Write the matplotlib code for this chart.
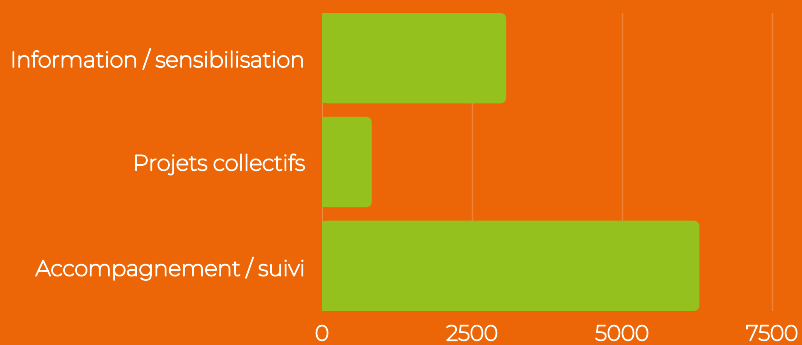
import matplotlib.pyplot as plt
import matplotlib.patheffects as pe
from matplotlib.patches import FancyBboxPatch, Rectangle

categories = ["Information / sensibilisation", "Projets collectifs", "Accompagnement / suivi"]
values = [3070, 830, 6290]
xticks = [0, 2500, 5000, 7500]

bg = "#EC6608"
green = "#95C11F"

plt.rcParams['font.family'] = ['Montserrat', 'Open Sans', 'DejaVu Sans']

fig = plt.figure(figsize=(8.02, 3.45), dpi=100, facecolor=bg)
ax = fig.add_axes([322 / 802, (345 - 311) / 345, 1 - 322 / 802, (311 - 13) / 345])
ax.set_facecolor(bg)

ypos = [2, 1, 0]
h = 0.87
ax.set_xlim(0, 8000)
ax.set_ylim(-h / 2, 2 + h / 2)

# gridlines
for t in xticks[1:]:
    ax.axvline(t, color="white", alpha=0.2, lw=1, zorder=0)
ax.axvline(0, color="white", alpha=0.3, lw=1.2, zorder=0)

bars = ax.barh(ypos, values, height=h, color=green, alpha=0)
# pixel scale for rounded corners
px_x = 8000 / (802 - 322)
px_y = (2 + h) / (311 - 13)
r = 6
for b in bars:
    x0, y0 = b.get_x(), b.get_y()
    w, hh = b.get_width(), b.get_height()
    patch = FancyBboxPatch((x0, y0), w, hh,
                           boxstyle=f"round,pad=0,rounding_size={r * px_x}",
                           mutation_aspect=px_y / px_x,
                           fc=green, ec="none", zorder=2)
    ax.add_patch(patch)
    ax.add_patch(Rectangle((x0, y0), min(w / 2, 20 * px_x), hh, fc=green, ec="none", zorder=2))

# the font only ships in a light weight, so thicken the glyphs a little
bold = [pe.withStroke(linewidth=0.85, foreground="white")]

ax.set_yticks(ypos)
ax.set_yticklabels(categories, color="white", fontsize=15.8)
ax.set_xticks(xticks)
ax.set_xticklabels([str(t) for t in xticks], color="white", fontsize=15.5)
for lbl in ax.get_yticklabels() + ax.get_xticklabels():
    lbl.set_path_effects(bold)
ax.tick_params(axis="both", length=0)
ax.tick_params(axis="y", pad=12)
ax.tick_params(axis="x", pad=9)
for s in ax.spines.values():
    s.set_visible(False)

fig.savefig("out.png", dpi=100, facecolor=bg)
